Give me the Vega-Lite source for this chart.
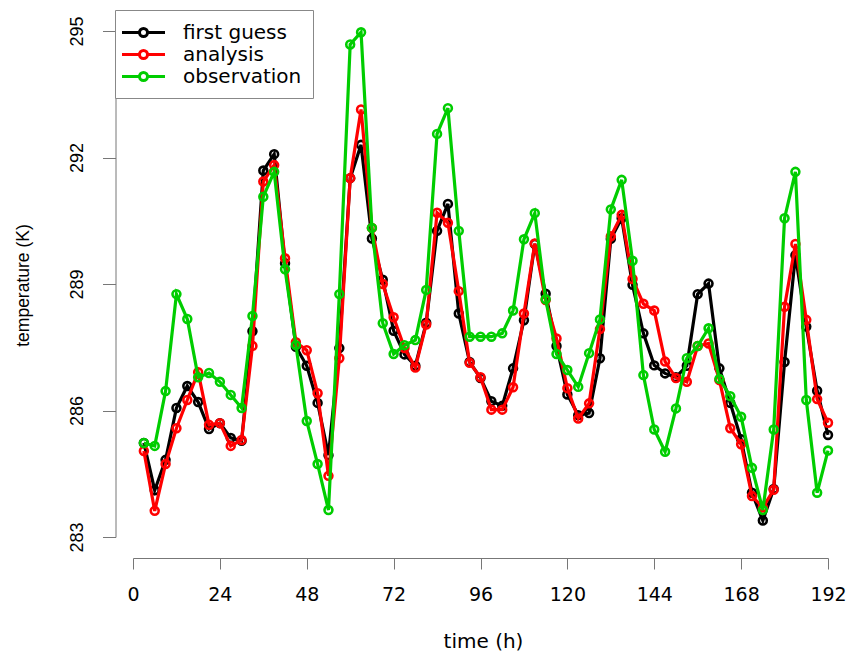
{
  "$schema": "https://vega.github.io/schema/vega-lite/v6.json",
  "autosize": {"type": "none"},
  "width": 695,
  "height": 506,
  "padding": {"left": 133, "top": 31, "right": 25, "bottom": 116},
  "background": "white",
  "config": {
    "view": {"stroke": null},
    "axis": {"grid": false, "domainColor": "#777777", "tickColor": "#777777", "labelColor": "#000000", "titleColor": "#000000", "titleFontWeight": "normal"}
  },
  "data": {
    "values": [
      {"hour": 3, "series": "first guess", "temp": 285.23}, {"hour": 6, "series": "first guess", "temp": 284.11}, {"hour": 9, "series": "first guess", "temp": 284.83}, {"hour": 12, "series": "first guess", "temp": 286.06},
      {"hour": 15, "series": "first guess", "temp": 286.58}, {"hour": 18, "series": "first guess", "temp": 286.2}, {"hour": 21, "series": "first guess", "temp": 285.56}, {"hour": 24, "series": "first guess", "temp": 285.7},
      {"hour": 27, "series": "first guess", "temp": 285.35}, {"hour": 30, "series": "first guess", "temp": 285.28}, {"hour": 33, "series": "first guess", "temp": 287.88}, {"hour": 36, "series": "first guess", "temp": 291.69},
      {"hour": 39, "series": "first guess", "temp": 292.08}, {"hour": 42, "series": "first guess", "temp": 289.49}, {"hour": 45, "series": "first guess", "temp": 287.51}, {"hour": 48, "series": "first guess", "temp": 287.06},
      {"hour": 51, "series": "first guess", "temp": 286.18}, {"hour": 54, "series": "first guess", "temp": 284.94}, {"hour": 57, "series": "first guess", "temp": 287.48}, {"hour": 60, "series": "first guess", "temp": 291.51},
      {"hour": 63, "series": "first guess", "temp": 292.3}, {"hour": 66, "series": "first guess", "temp": 290.08}, {"hour": 69, "series": "first guess", "temp": 289.1}, {"hour": 72, "series": "first guess", "temp": 287.89},
      {"hour": 75, "series": "first guess", "temp": 287.33}, {"hour": 78, "series": "first guess", "temp": 287.06}, {"hour": 81, "series": "first guess", "temp": 288.08}, {"hour": 84, "series": "first guess", "temp": 290.26},
      {"hour": 87, "series": "first guess", "temp": 290.9}, {"hour": 90, "series": "first guess", "temp": 288.3}, {"hour": 93, "series": "first guess", "temp": 287.15}, {"hour": 96, "series": "first guess", "temp": 286.77},
      {"hour": 99, "series": "first guess", "temp": 286.22}, {"hour": 102, "series": "first guess", "temp": 286.11}, {"hour": 105, "series": "first guess", "temp": 287.0}, {"hour": 108, "series": "first guess", "temp": 288.14},
      {"hour": 111, "series": "first guess", "temp": 289.95}, {"hour": 114, "series": "first guess", "temp": 288.77}, {"hour": 117, "series": "first guess", "temp": 287.53}, {"hour": 120, "series": "first guess", "temp": 286.38},
      {"hour": 123, "series": "first guess", "temp": 285.89}, {"hour": 126, "series": "first guess", "temp": 285.94}, {"hour": 129, "series": "first guess", "temp": 287.24}, {"hour": 132, "series": "first guess", "temp": 290.07},
      {"hour": 135, "series": "first guess", "temp": 290.56}, {"hour": 138, "series": "first guess", "temp": 288.98}, {"hour": 141, "series": "first guess", "temp": 287.83}, {"hour": 144, "series": "first guess", "temp": 287.07},
      {"hour": 147, "series": "first guess", "temp": 286.88}, {"hour": 150, "series": "first guess", "temp": 286.79}, {"hour": 153, "series": "first guess", "temp": 287.06}, {"hour": 156, "series": "first guess", "temp": 288.76},
      {"hour": 159, "series": "first guess", "temp": 289.01}, {"hour": 162, "series": "first guess", "temp": 287.0}, {"hour": 165, "series": "first guess", "temp": 286.18}, {"hour": 168, "series": "first guess", "temp": 285.32},
      {"hour": 171, "series": "first guess", "temp": 284.05}, {"hour": 174, "series": "first guess", "temp": 283.39}, {"hour": 177, "series": "first guess", "temp": 284.14}, {"hour": 180, "series": "first guess", "temp": 287.15},
      {"hour": 183, "series": "first guess", "temp": 289.68}, {"hour": 186, "series": "first guess", "temp": 287.99}, {"hour": 189, "series": "first guess", "temp": 286.47}, {"hour": 192, "series": "first guess", "temp": 285.42},

      {"hour": 3, "series": "analysis", "temp": 285.04}, {"hour": 6, "series": "analysis", "temp": 283.62}, {"hour": 9, "series": "analysis", "temp": 284.73}, {"hour": 12, "series": "analysis", "temp": 285.58},
      {"hour": 15, "series": "analysis", "temp": 286.25}, {"hour": 18, "series": "analysis", "temp": 286.91}, {"hour": 21, "series": "analysis", "temp": 285.66}, {"hour": 24, "series": "analysis", "temp": 285.7},
      {"hour": 27, "series": "analysis", "temp": 285.16}, {"hour": 30, "series": "analysis", "temp": 285.3}, {"hour": 33, "series": "analysis", "temp": 287.53}, {"hour": 36, "series": "analysis", "temp": 291.43},
      {"hour": 39, "series": "analysis", "temp": 291.82}, {"hour": 42, "series": "analysis", "temp": 289.61}, {"hour": 45, "series": "analysis", "temp": 287.62}, {"hour": 48, "series": "analysis", "temp": 287.43},
      {"hour": 51, "series": "analysis", "temp": 286.41}, {"hour": 54, "series": "analysis", "temp": 284.45}, {"hour": 57, "series": "analysis", "temp": 287.24}, {"hour": 60, "series": "analysis", "temp": 291.51},
      {"hour": 63, "series": "analysis", "temp": 293.14}, {"hour": 66, "series": "analysis", "temp": 290.33}, {"hour": 69, "series": "analysis", "temp": 289.0}, {"hour": 72, "series": "analysis", "temp": 288.21},
      {"hour": 75, "series": "analysis", "temp": 287.48}, {"hour": 78, "series": "analysis", "temp": 287.02}, {"hour": 81, "series": "analysis", "temp": 288.04}, {"hour": 84, "series": "analysis", "temp": 290.69},
      {"hour": 87, "series": "analysis", "temp": 290.45}, {"hour": 90, "series": "analysis", "temp": 288.83}, {"hour": 93, "series": "analysis", "temp": 287.13}, {"hour": 96, "series": "analysis", "temp": 286.79},
      {"hour": 99, "series": "analysis", "temp": 286.02}, {"hour": 102, "series": "analysis", "temp": 286.02}, {"hour": 105, "series": "analysis", "temp": 286.55}, {"hour": 108, "series": "analysis", "temp": 288.3},
      {"hour": 111, "series": "analysis", "temp": 289.96}, {"hour": 114, "series": "analysis", "temp": 288.62}, {"hour": 117, "series": "analysis", "temp": 287.71}, {"hour": 120, "series": "analysis", "temp": 286.53},
      {"hour": 123, "series": "analysis", "temp": 285.81}, {"hour": 126, "series": "analysis", "temp": 286.17}, {"hour": 129, "series": "analysis", "temp": 287.93}, {"hour": 132, "series": "analysis", "temp": 290.13},
      {"hour": 135, "series": "analysis", "temp": 290.64}, {"hour": 138, "series": "analysis", "temp": 289.12}, {"hour": 141, "series": "analysis", "temp": 288.53}, {"hour": 144, "series": "analysis", "temp": 288.37},
      {"hour": 147, "series": "analysis", "temp": 287.16}, {"hour": 150, "series": "analysis", "temp": 286.77}, {"hour": 153, "series": "analysis", "temp": 286.68}, {"hour": 156, "series": "analysis", "temp": 287.53},
      {"hour": 159, "series": "analysis", "temp": 287.59}, {"hour": 162, "series": "analysis", "temp": 286.72}, {"hour": 165, "series": "analysis", "temp": 285.58}, {"hour": 168, "series": "analysis", "temp": 285.2},
      {"hour": 171, "series": "analysis", "temp": 283.97}, {"hour": 174, "series": "analysis", "temp": 283.7}, {"hour": 177, "series": "analysis", "temp": 284.12}, {"hour": 180, "series": "analysis", "temp": 288.46},
      {"hour": 183, "series": "analysis", "temp": 289.95}, {"hour": 186, "series": "analysis", "temp": 288.15}, {"hour": 189, "series": "analysis", "temp": 286.27}, {"hour": 192, "series": "analysis", "temp": 285.71},

      {"hour": 3, "series": "observation", "temp": 285.23}, {"hour": 6, "series": "observation", "temp": 285.16}, {"hour": 9, "series": "observation", "temp": 286.46}, {"hour": 12, "series": "observation", "temp": 288.76},
      {"hour": 15, "series": "observation", "temp": 288.17}, {"hour": 18, "series": "observation", "temp": 286.79}, {"hour": 21, "series": "observation", "temp": 286.89}, {"hour": 24, "series": "observation", "temp": 286.68},
      {"hour": 27, "series": "observation", "temp": 286.37}, {"hour": 30, "series": "observation", "temp": 286.06}, {"hour": 33, "series": "observation", "temp": 288.24}, {"hour": 36, "series": "observation", "temp": 291.07},
      {"hour": 39, "series": "observation", "temp": 291.66}, {"hour": 42, "series": "observation", "temp": 289.35}, {"hour": 45, "series": "observation", "temp": 287.55}, {"hour": 48, "series": "observation", "temp": 285.75},
      {"hour": 51, "series": "observation", "temp": 284.73}, {"hour": 54, "series": "observation", "temp": 283.64}, {"hour": 57, "series": "observation", "temp": 288.76}, {"hour": 60, "series": "observation", "temp": 294.68},
      {"hour": 63, "series": "observation", "temp": 294.97}, {"hour": 66, "series": "observation", "temp": 290.33}, {"hour": 69, "series": "observation", "temp": 288.07}, {"hour": 72, "series": "observation", "temp": 287.34},
      {"hour": 75, "series": "observation", "temp": 287.55}, {"hour": 78, "series": "observation", "temp": 287.67}, {"hour": 81, "series": "observation", "temp": 288.86}, {"hour": 84, "series": "observation", "temp": 292.56},
      {"hour": 87, "series": "observation", "temp": 293.17}, {"hour": 90, "series": "observation", "temp": 290.26}, {"hour": 93, "series": "observation", "temp": 287.75}, {"hour": 96, "series": "observation", "temp": 287.75},
      {"hour": 99, "series": "observation", "temp": 287.75}, {"hour": 102, "series": "observation", "temp": 287.83}, {"hour": 105, "series": "observation", "temp": 288.37}, {"hour": 108, "series": "observation", "temp": 290.06},
      {"hour": 111, "series": "observation", "temp": 290.68}, {"hour": 114, "series": "observation", "temp": 288.64}, {"hour": 117, "series": "observation", "temp": 287.34}, {"hour": 120, "series": "observation", "temp": 286.96},
      {"hour": 123, "series": "observation", "temp": 286.56}, {"hour": 126, "series": "observation", "temp": 287.36}, {"hour": 129, "series": "observation", "temp": 288.16}, {"hour": 132, "series": "observation", "temp": 290.77},
      {"hour": 135, "series": "observation", "temp": 291.47}, {"hour": 138, "series": "observation", "temp": 289.55}, {"hour": 141, "series": "observation", "temp": 286.84}, {"hour": 144, "series": "observation", "temp": 285.55},
      {"hour": 147, "series": "observation", "temp": 285.02}, {"hour": 150, "series": "observation", "temp": 286.05}, {"hour": 153, "series": "observation", "temp": 287.24}, {"hour": 156, "series": "observation", "temp": 287.53},
      {"hour": 159, "series": "observation", "temp": 287.95}, {"hour": 162, "series": "observation", "temp": 286.75}, {"hour": 165, "series": "observation", "temp": 286.34}, {"hour": 168, "series": "observation", "temp": 285.85},
      {"hour": 171, "series": "observation", "temp": 284.64}, {"hour": 174, "series": "observation", "temp": 283.64}, {"hour": 177, "series": "observation", "temp": 285.55}, {"hour": 180, "series": "observation", "temp": 290.56},
      {"hour": 183, "series": "observation", "temp": 291.66}, {"hour": 186, "series": "observation", "temp": 286.25}, {"hour": 189, "series": "observation", "temp": 284.05}, {"hour": 192, "series": "observation", "temp": 285.05}
    ]
  },
  "encoding": {
    "x": {
      "field": "hour", "type": "quantitative",
      "scale": {"domain": [0, 192], "nice": false, "zero": false},
      "axis": {
        "title": "time (h)", "values": [0, 24, 48, 72, 96, 120, 144, 168, 192],
        "offset": 21, "tickSize": 11, "labelPadding": 16,
        "labelFont": "DejaVu Sans", "labelFontSize": 19, "labelBaseline": "top", "labelFlush": false,
        "titleFont": "DejaVu Sans", "titleFontSize": 20, "titleBaseline": "alphabetic", "titleX": 350, "titleY": 89, "titleAnchor": "middle"
      }
    },
    "y": {
      "field": "temp", "type": "quantitative",
      "scale": {"domain": [283, 295], "nice": false, "zero": false},
      "axis": {
        "title": "temperature (K)", "values": [283, 286, 289, 292, 295],
        "offset": 17.5, "tickSize": 13, "labelPadding": 20,
        "labelFont": "Liberation Sans", "labelFontSize": 18, "labelAngle": 270, "labelAlign": "center", "labelBaseline": "alphabetic", "labelFlush": false,
        "titleFont": "Liberation Sans", "titleFontSize": 17.5, "titleAngle": 270, "titleAlign": "center", "titleBaseline": "alphabetic", "titleX": -87, "titleY": 254
      }
    },
    "color": {
      "field": "series", "type": "nominal",
      "scale": {"domain": ["first guess", "analysis", "observation"], "range": ["#000000", "#FF0000", "#00CD00"]},
      "legend": {
        "title": null, "orient": "none", "legendX": -18, "legendY": -21,
        "strokeColor": "#888888", "fillColor": "#FFFFFF", "padding": 11,
        "labelFont": "DejaVu Sans", "labelFontSize": 20, "labelColor": "#000000", "labelOffset": 28,
        "symbolType": "M-2.15,0L-0.4,0M0.4,0L2.15,0M-0.4,0A0.4,0.4 0 1,0 0.4,0A0.4,0.4 0 1,0 -0.4,0",
        "symbolSize": 400, "symbolStrokeWidth": 3, "symbolFillColor": "transparent", "symbolOffset": 6,
        "rowPadding": 0
      }
    }
  },
  "layer": [
    {"transform": [{"filter": "datum.series === 'first guess'"}], "mark": {"type": "line", "strokeWidth": 3.2}},
    {"transform": [{"filter": "datum.series === 'first guess'"}], "mark": {"type": "point", "filled": false, "size": 62, "strokeWidth": 2.6, "opacity": 1}},
    {"transform": [{"filter": "datum.series === 'analysis'"}], "mark": {"type": "line", "strokeWidth": 3.2}},
    {"transform": [{"filter": "datum.series === 'analysis'"}], "mark": {"type": "point", "filled": false, "size": 62, "strokeWidth": 2.6, "opacity": 1}},
    {"transform": [{"filter": "datum.series === 'observation'"}], "mark": {"type": "line", "strokeWidth": 3.2}},
    {"transform": [{"filter": "datum.series === 'observation'"}], "mark": {"type": "point", "filled": false, "size": 62, "strokeWidth": 2.6, "opacity": 1}}
  ]
}
